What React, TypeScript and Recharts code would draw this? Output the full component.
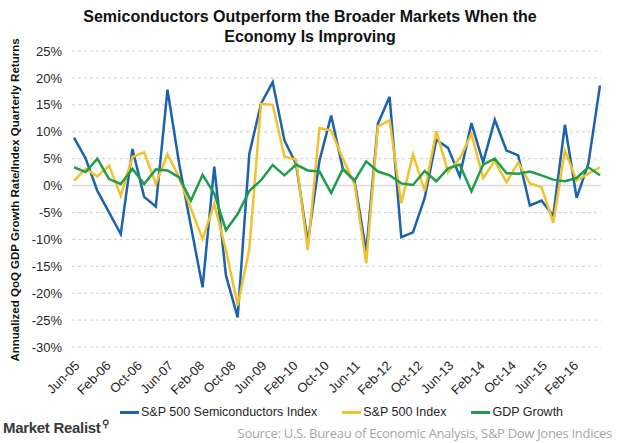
import { CartesianGrid, Line, LineChart, ReferenceLine, XAxis, YAxis } from "recharts";

const quarters = [
  "Jun-05", "Sep-05", "Dec-05", "Mar-06", "Jun-06", "Sep-06", "Dec-06", "Mar-07",
  "Jun-07", "Sep-07", "Dec-07", "Mar-08", "Jun-08", "Sep-08", "Dec-08", "Mar-09",
  "Jun-09", "Sep-09", "Dec-09", "Mar-10", "Jun-10", "Sep-10", "Dec-10", "Mar-11",
  "Jun-11", "Sep-11", "Dec-11", "Mar-12", "Jun-12", "Sep-12", "Dec-12", "Mar-13",
  "Jun-13", "Sep-13", "Dec-13", "Mar-14", "Jun-14", "Sep-14", "Dec-14", "Mar-15",
  "Jun-15", "Sep-15", "Dec-15", "Mar-16", "Jun-16", "Sep-16",
];

const semis = [
  8.9, 5.0, -1.0, -5.0, -9.0, 6.8, -2.1, -3.9, 17.8, 4.0, -7.5, -18.9, 3.5, -16.7, -24.5, 5.9,
  15.2, 19.2, 8.4, 4.0, -10.5, 4.6, 13.0, 3.1, 0.9, -12.3, 11.5, 16.5, -9.6, -8.7, -2.3, 8.5,
  7.0, 1.7, 11.6, 4.3, 12.2, 6.5, 5.6, -3.7, -2.8, -5.6, 11.3, -2.3, 4.0, 18.6,
];

const sp500 = [
  0.9, 3.1, 1.7, 3.7, -1.9, 5.3, 6.2, 0.3, 5.8, 1.5, -4.3, -9.9, -3.4, -12.0, -22.3, -11.8,
  15.2, 15.0, 5.4, 4.8, -12.0, 10.7, 10.2, 5.0, 0.3, -14.4, 11.0, 12.1, -3.3, 5.8, -1.0, 10.1,
  2.5, 5.0, 9.6, 1.4, 4.6, 0.6, 4.3, 0.4, -0.3, -6.9, 6.5, 0.9, 2.2, 3.4,
];

const gdp = [
  3.4, 2.5, 5.0, 1.2, 0.3, 3.1, 0.3, 3.0, 2.8, 1.5, -2.8, 2.0, -1.5, -8.3, -5.3, -1.0,
  1.0, 3.8, 1.9, 3.9, 2.8, 2.6, -1.4, 3.1, 0.9, 4.5, 2.6, 1.9, 0.4, 0.1, 2.7, 0.8,
  3.2, 3.9, -1.1, 3.9, 5.0, 2.3, 2.2, 2.6, 1.9, 1.1, 0.8, 1.4, 3.4, 1.9,
];

const tickLabels = [
  "Jun-05", "Feb-06", "Oct-06", "Jun-07", "Feb-08", "Oct-08", "Jun-09", "Feb-10", "Oct-10",
  "Jun-11", "Feb-12", "Oct-12", "Jun-13", "Feb-14", "Oct-14", "Jun-15", "Feb-16",
];

const yTicks = [-30, -25, -20, -15, -10, -5, 0, 5, 10, 15, 20, 25];

const MONTHS = ["Jan", "Feb", "Mar", "Apr", "May", "Jun", "Jul", "Aug", "Sep", "Oct", "Nov", "Dec"];

// months elapsed since Jun-05, so the x axis behaves like an Excel date axis
function monthIndex(label: string): number {
  const [mon, yy] = label.split("-");
  return (Number(yy) - 5) * 12 + MONTHS.indexOf(mon) - 5;
}

const chartData = quarters.map((q, i) => ({
  m: monthIndex(q),
  label: q,
  semis: semis[i],
  sp500: sp500[i],
  gdp: gdp[i],
}));

const tickValues = tickLabels.map(monthIndex);
const labelByMonth = new Map(tickLabels.map((t) => [monthIndex(t), t]));

const FONT = "'Liberation Sans', Arial, sans-serif";
const BLUE = "#1b63ad";
const YELLOW = "#f3c12c";
const GREEN = "#1f9d48";

function RotatedTick({ x, y, payload }: any) {
  const tx = x + 4;
  const ty = y + 9;
  return (
    <text
      x={tx}
      y={ty}
      transform={`rotate(-45 ${tx} ${ty})`}
      textAnchor="end"
      dominantBaseline="middle"
      fill="#262626"
      fontSize={13}
      fontFamily={FONT}
    >
      {labelByMonth.get(payload.value)}
    </text>
  );
}

const legendItems = [
  { name: "S&P 500 Semiconductors Index", color: BLUE },
  { name: "S&P 500 Index", color: YELLOW },
  { name: "GDP Growth", color: GREEN },
];

export default function App() {
  return (
    <div
      style={{
        position: "absolute",
        left: 0,
        top: 0,
        width: 620,
        height: 443,
        background: "#fff",
        fontFamily: FONT,
        overflow: "hidden",
      }}
    >
      <div
        style={{
          position: "absolute",
          top: 7,
          left: 0,
          width: 620,
          textAlign: "center",
          fontWeight: 700,
          fontSize: 16,
          lineHeight: "20px",
          color: "#111",
        }}
      >
        Semiconductors Outperform the Broader Markets When the
        <br />
        Economy Is Improving
      </div>

      <div
        style={{
          position: "absolute",
          left: 15,
          top: 200,
          transform: "translate(-50%, -50%) rotate(-90deg)",
          whiteSpace: "nowrap",
          fontWeight: 700,
          fontSize: 11.5,
          color: "#111",
        }}
      >
        Annualized QoQ GDP Growth Rate/Index Quarterly Returns
      </div>

      <LineChart
        width={620}
        height={443}
        data={chartData}
        margin={{ top: 51, right: 19, left: 12, bottom: 46 }}
      >
        <CartesianGrid horizontal vertical={false} stroke="#cfcfcf" strokeDasharray="3 3" />
        <XAxis
          dataKey="m"
          type="number"
          domain={[0, 135]}
          ticks={tickValues}
          interval={0}
          axisLine={false}
          tickLine={false}
          height={50}
          padding={{ left: 2, right: 1 }}
          tick={<RotatedTick />}
        />
        <YAxis
          domain={[-30, 25]}
          ticks={yTicks}
          interval={0}
          axisLine={false}
          tickLine={false}
          width={60}
          tickMargin={4}
          tickFormatter={(v: number) => `${v}%`}
          tick={{ fill: "#262626", fontSize: 13, fontFamily: FONT }}
        />
        <ReferenceLine y={0} stroke="#d9d9d9" strokeWidth={1.5} />
        <Line
          type="linear"
          dataKey="semis"
          name="S&P 500 Semiconductors Index"
          stroke={BLUE}
          strokeWidth={2.5}
          dot={false}
          activeDot={false}
          isAnimationActive={false}
        />
        <Line
          type="linear"
          dataKey="sp500"
          name="S&P 500 Index"
          stroke={YELLOW}
          strokeWidth={2.5}
          dot={false}
          activeDot={false}
          isAnimationActive={false}
        />
        <Line
          type="linear"
          dataKey="gdp"
          name="GDP Growth"
          stroke={GREEN}
          strokeWidth={2.5}
          dot={false}
          activeDot={false}
          isAnimationActive={false}
        />
      </LineChart>

      <div
        style={{
          position: "absolute",
          top: 405,
          left: 120,
          display: "flex",
          gap: 25,
          fontSize: 12.5,
          color: "#262626",
        }}
      >
        {legendItems.map((item) => (
          <div key={item.name} style={{ display: "flex", alignItems: "center" }}>
            <span
              style={{
                display: "inline-block",
                width: 19,
                height: 3,
                background: item.color,
                marginRight: 2,
              }}
            />
            {item.name}
          </div>
        ))}
      </div>

      <div
        style={{
          position: "absolute",
          left: 3,
          top: 418,
          fontWeight: 700,
          fontSize: 15,
          color: "#3a3a3a",
          letterSpacing: -0.3,
        }}
      >
        Market Realist
        <span style={{ fontSize: 10, verticalAlign: "super", marginLeft: 1 }}>&#9906;</span>
      </div>

      <div
        style={{
          position: "absolute",
          right: 8,
          top: 424,
          fontSize: 13,
          color: "#a6a6a6",
          fontFamily: "'Open Sans', sans-serif",
          letterSpacing: -0.3,
        }}
      >
        Source: U.S. Bureau of Economic Analysis, S&amp;P Dow Jones Indices
      </div>
    </div>
  );
}
